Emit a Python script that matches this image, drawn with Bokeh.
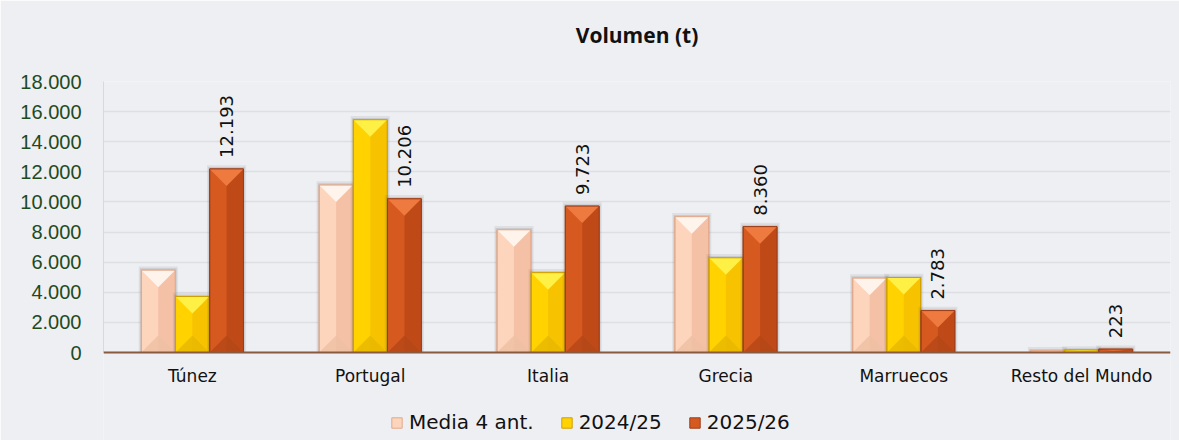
import math
from bokeh.plotting import figure
from bokeh.models import Range1d, FixedTicker, Legend, LegendItem, ColumnDataSource, Span, Title
from bokeh.core.properties import value
from bokeh.embed import file_html
from bokeh.resources import INLINE

categories = ["Túnez", "Portugal", "Italia", "Grecia", "Marruecos", "Resto del Mundo"]
series_names = ["Media 4 ant.", "2024/25", "2025/26"]
media4 = [5470, 11120, 8150, 9020, 4940, 120]
s2425 = [3720, 15460, 5300, 6290, 4980, 170]
s2526 = [12193, 10206, 9723, 8360, 2783, 223]
labels_2526 = ["12.193", "10.206", "9.723", "8.360", "2.783", "223"]
y_ticks = [0, 2000, 4000, 6000, 8000, 10000, 12000, 14000, 16000, 18000]
y_tick_labels = ["0", "2.000", "4.000", "6.000", "8.000", "10.000", "12.000", "14.000", "16.000", "18.000"]

series = [media4, s2425, s2526]
offsets = [-0.192, 0.0, 0.192]
bar_w = 0.19
# main, right shade, top bevel, bottom bevel, outline
palettes = [
    ("#fdd4bc", "#f4c1a6", "#fff4ec", "#eebfa3", "#e2a98b"),
    ("#ffd200", "#f7c200", "#fff046", "#e6b600", "#cfa000"),
    ("#d65a20", "#bf4a18", "#ef7a40", "#b44616", "#9c3e18"),
]

# layout: 18000 units over 271 px; frame extends 88 px below zero
U = 18000.0 / 271.0
Y_BOTTOM = -88 * U
X_LABEL_LOC = -33 * U

BG = "#eeeff2"
p = figure(width=1179, height=440, output_backend="svg", toolbar_location=None,
           x_range=Range1d(-0.5, 5.5), y_range=Range1d(Y_BOTTOM, 18000),
           x_axis_location="above",
           min_border_left=103, min_border_right=9, min_border_top=81, min_border_bottom=0,
           background_fill_color=BG, border_fill_color=BG)
p.outline_line_color = None
# spacer panel between frame and title
p.add_layout(Title(text=" ", text_font_size="21px", standoff=8), "above")
p.add_layout(Title(text="Volumen (t)", align="center", text_font="Open Sans",
                   text_font_style="bold", text_font_size="21px", text_color="#111111",
                   standoff=0), "above")

p.xgrid.grid_line_color = None
p.ygrid.grid_line_color = "#dedfe2"
p.ygrid.grid_line_width = 1.5

p.yaxis.ticker = FixedTicker(ticks=y_ticks)
p.yaxis.bounds = (0, 18000)
p.yaxis.major_label_overrides = {t: l for t, l in zip(y_ticks, y_tick_labels)}
p.yaxis.major_label_text_font = "Liberation Sans"
p.yaxis.major_label_text_font_size = "20px"
p.yaxis.major_label_text_color = "#1e4a1e"
p.yaxis.major_tick_line_color = None
p.yaxis.major_tick_out = 0
p.yaxis.major_tick_in = 0
p.yaxis.minor_tick_line_color = None
p.yaxis.axis_line_color = "#d8d9dc"
p.yaxis.major_label_standoff = 22

p.xaxis.ticker = FixedTicker(ticks=list(range(len(categories))))
p.xaxis.fixed_location = X_LABEL_LOC
p.xaxis.major_label_overrides = {i: c for i, c in enumerate(categories)}
p.xaxis.major_label_text_font = "DejaVu Sans"
p.xaxis.major_label_text_font_size = "17px"
p.xaxis.major_label_text_color = "#111111"
p.xaxis.major_tick_line_color = None
p.xaxis.major_tick_out = 0
p.xaxis.major_tick_in = 0
p.xaxis.minor_tick_line_color = None
p.xaxis.axis_line_color = None
p.xaxis.major_label_standoff = 0

bevel = 17.0 * U

legend_items = []
for si, (vals, off, pal) in enumerate(zip(series, offsets, palettes)):
    main, right, top, bottom, outline = pal
    xs = [i + off for i in range(len(vals))]
    # shadow
    p.vbar(x=xs, top=[v + 250 for v in vals], width=bar_w + 0.03, bottom=0,
           fill_color="#555555", fill_alpha=0.10, line_color=None)
    p.vbar(x=xs, top=[v + 120 for v in vals], width=bar_w + 0.016, bottom=0,
           fill_color="#555555", fill_alpha=0.15, line_color=None)
    r_main = p.vbar(x=xs, top=vals, width=bar_w, bottom=0,
                    fill_color=main, line_color=outline, line_width=1)
    # right shaded half
    p.vbar(x=[x + bar_w * 0.25 for x in xs], top=vals, width=bar_w * 0.5, bottom=0,
           fill_color=right, line_color=None)
    # bevel triangles
    txs, tys, bxs, bys = [], [], [], []
    for x, v in zip(xs, vals):
        d = min(bevel, v / 2.0)
        L, R = x - bar_w / 2, x + bar_w / 2
        txs.append([L, R, x])
        tys.append([v, v, v - d])
        bxs.append([L, R, x])
        bys.append([0, 0, d])
    p.patches(xs=txs, ys=tys, fill_color=top, line_color=None)
    p.patches(xs=bxs, ys=bys, fill_color=bottom, line_color=None, fill_alpha=0.8)
    # outline
    p.vbar(x=xs, top=vals, width=bar_w, bottom=0, fill_color=None,
           line_color=outline, line_width=1)
    legend_items.append(LegendItem(label=series_names[si], renderers=[r_main]))

p.add_layout(Span(location=0, dimension="width", line_color="#8a5a40", line_width=2))

lab_src = ColumnDataSource(dict(x=[i + offsets[2] for i in range(len(s2526))],
                                y=s2526, t=labels_2526))
p.text(x="x", y="y", text="t", source=lab_src, angle=math.pi / 2,
       text_align="left", text_baseline="middle", y_offset=-11,
       text_font=value("DejaVu Sans"), text_font_size="18px", text_color="#111111")

legend = Legend(items=legend_items, orientation="horizontal", location=(287, 6),
                background_fill_alpha=0, border_line_color=None,
                label_text_font="DejaVu Sans", label_text_font_size="20px",
                label_text_color="#111111", glyph_width=13, glyph_height=13,
                spacing=26, label_standoff=6, padding=0, margin=0)
p.add_layout(legend, "center")

open("out.html", "w").write(file_html(p, INLINE))
